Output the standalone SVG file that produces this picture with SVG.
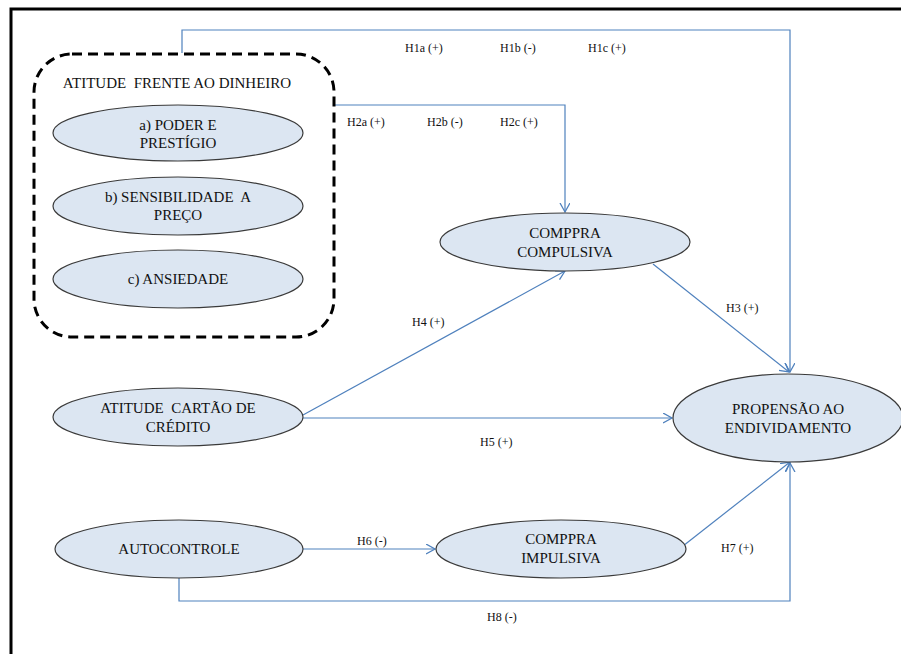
<svg xmlns="http://www.w3.org/2000/svg" width="901" height="654" viewBox="0 0 901 654" xml:space="preserve">
<style>
.node ellipse{fill:#dce6f2;stroke:#3a3a3a;stroke-width:1.2}
.t{font-family:"Liberation Serif","Times New Roman",serif;font-size:15px;fill:#111;text-anchor:middle;white-space:pre}
.lbl{font-family:"Liberation Serif","Times New Roman",serif;font-size:12px;fill:#111;white-space:pre}
.c{fill:none;stroke:#4f81bd;stroke-width:1.2}
</style>
<defs>
<marker id="ah" markerUnits="userSpaceOnUse" markerWidth="12" markerHeight="12" refX="9" refY="5" orient="auto">
<path d="M0,0 L9,5 L0,10" fill="none" stroke="#4f81bd" stroke-width="1.3"/>
</marker>
</defs>
<rect x="0" y="0" width="901" height="654" fill="#fff"/>
<path d="M11,654 V9 H901" fill="none" stroke="#000" stroke-width="3"/>
<g id="connectors">
<path class="c" d="M182,53 V30 H790 V372" marker-end="url(#ah)"/>
<path class="c" d="M334,105 H565 V212" marker-end="url(#ah)"/>
<path class="c" d="M653,264 L789,372" marker-end="url(#ah)"/>
<path class="c" d="M303,415 L565,271" marker-end="url(#ah)"/>
<path class="c" d="M303,418 H672" marker-end="url(#ah)"/>
<path class="c" d="M303,549 H435" marker-end="url(#ah)"/>
<path class="c" d="M683,546 L790,462" marker-end="url(#ah)"/>
<path class="c" d="M179,578 V601 H790 V463" marker-end="url(#ah)"/>
</g>
<g id="labels">
<text class="lbl" x="405" y="52">H1a (+)</text>
<text class="lbl" x="500" y="52">H1b (-)</text>
<text class="lbl" x="588" y="52">H1c (+)</text>
<text class="lbl" x="347" y="126">H2a (+)</text>
<text class="lbl" x="427" y="126">H2b (-)</text>
<text class="lbl" x="500" y="126">H2c (+)</text>
<text class="lbl" x="726" y="312">H3 (+)</text>
<text class="lbl" x="412" y="326">H4 (+)</text>
<text class="lbl" x="480" y="446">H5 (+)</text>
<text class="lbl" x="357" y="545">H6 (-)</text>
<text class="lbl" x="721" y="552">H7 (+)</text>
<text class="lbl" x="487" y="621">H8 (-)</text>
</g>
<g id="atitude-dinheiro">
<rect x="34" y="54" width="300" height="283" rx="38" ry="38" fill="none" stroke="#000" stroke-width="3" stroke-dasharray="10,6"/>
<text class="t" x="177" y="88">ATITUDE  FRENTE AO DINHEIRO</text>
</g>
<g id="poder" class="node">
<ellipse cx="178" cy="133" rx="125" ry="28"/>
<text class="t" x="178" y="130">a) PODER E</text>
<text class="t" x="178" y="148">PRESTÍGIO</text>
</g>
<g id="sensibilidade" class="node">
<ellipse cx="178" cy="206" rx="125" ry="29"/>
<text class="t" x="178" y="202">b) SENSIBILIDADE  A</text>
<text class="t" x="178" y="220">PREÇO</text>
</g>
<g id="ansiedade" class="node">
<ellipse cx="178" cy="279" rx="125" ry="29"/>
<text class="t" x="178" y="284">c) ANSIEDADE</text>
</g>
<g id="compulsiva" class="node">
<ellipse cx="565" cy="242" rx="125" ry="29"/>
<text class="t" x="565" y="238">COMPPRA</text>
<text class="t" x="565" y="257">COMPULSIVA</text>
</g>
<g id="cartao" class="node">
<ellipse cx="178" cy="417" rx="125" ry="29"/>
<text class="t" x="178" y="413">ATITUDE  CARTÃO DE</text>
<text class="t" x="178" y="432">CRÉDITO</text>
</g>
<g id="propensao" class="node">
<ellipse cx="788" cy="418" rx="115" ry="44"/>
<text class="t" x="788" y="414">PROPENSÃO AO</text>
<text class="t" x="788" y="433">ENDIVIDAMENTO</text>
</g>
<g id="autocontrole" class="node">
<ellipse cx="179" cy="549" rx="124" ry="29"/>
<text class="t" x="179" y="554">AUTOCONTROLE</text>
</g>
<g id="impulsiva" class="node">
<ellipse cx="561" cy="549" rx="125" ry="29"/>
<text class="t" x="561" y="544">COMPPRA</text>
<text class="t" x="561" y="563">IMPULSIVA</text>
</g>
</svg>
